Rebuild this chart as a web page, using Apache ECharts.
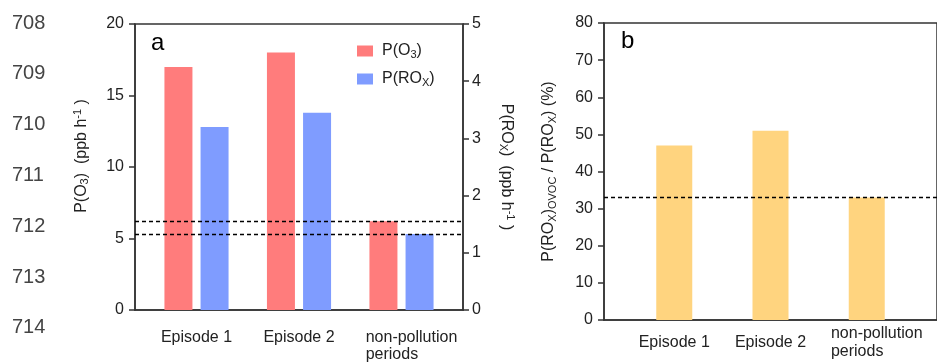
<!DOCTYPE html>
<html>
<head>
<meta charset="utf-8">
<script src="https://cdn.jsdelivr.net/npm/echarts@6/dist/echarts.min.js"></script>
<style>
html, body { margin: 0; padding: 0; background: #fff; }
#main { width: 937px; height: 363px; }
</style>
</head>
<body>
<div id="main"></div>
<script>
// data
var categories = ['Episode 1', 'Episode 2', 'non-pollution periods'];
var pO3 = [17, 18, 6.2];          // ppb h-1, left axis
var pROx = [3.2, 3.45, 1.33];     // ppb h-1, right axis
var ovocShare = [47, 51, 33];     // %
var o3Baseline = 6.2;
var roxBaseline = 1.33;
var ovocBaseline = 33;
var lineNumbers = ['708', '709', '710', '711', '712', '713', '714'];

var FONT = 'Liberation Sans, Arial, sans-serif';
var AXIS = '#333';

function toPoints(arr) {
  return arr.map(function (v, i) { return [i + 1, v]; });
}

function catLabel(v) {
  var name = categories[Math.round(v) - 1];
  if (name === 'non-pollution periods') return '{np|non-pollution}\n{np|periods}';
  return name;
}

var richText = {
  sub: { fontSize: 11, fontFamily: FONT, color: '#222', padding: [7, 0, 0, 0] },
  sup: { fontSize: 11, fontFamily: FONT, color: '#222', padding: [0, 0, 8, 0] }
};

function dashed(y) {
  return {
    silent: true,
    symbol: 'none',
    label: { show: false },
    lineStyle: { color: '#000', type: [4, 3], width: 1.3 },
    data: [{ yAxis: y }]
  };
}

var chartDom = document.getElementById('main');
var myChart = echarts.init(chartDom);

var labelLines = lineNumbers.map(function (t, i) {
  return {
    type: 'text', left: 12, top: 13 + i * 50.8,
    style: { text: t, fontSize: 20, fontFamily: FONT, fill: '#444' }
  };
});

var option = {
  animation: false,
  backgroundColor: '#fff',
  graphic: labelLines.concat([
    { type: 'text', left: 151, top: 31, style: { text: 'a', fontSize: 24, fontFamily: FONT, fill: '#000' } },
    { type: 'text', left: 621, top: 29, style: { text: 'b', fontSize: 24, fontFamily: FONT, fill: '#000' } }
  ]),
  legend: {
    data: ['P(O3)', 'P(ROx)'],
    orient: 'vertical',
    left: 352, top: 38,
    icon: 'rect',
    itemWidth: 16, itemHeight: 11, itemGap: 11,
    formatter: function (name) {
      return name === 'P(O3)' ? 'P(O{sub|3})' : 'P(RO{sub|X})';
    },
    textStyle: {
      fontSize: 16, fontFamily: FONT, color: '#222', padding: [0, 0, 0, 4],
      rich: richText
    }
  },
  grid: [
    { left: 135, right: 474, top: 24, bottom: 53, show: true, borderColor: AXIS, borderWidth: 1.5 },
    { left: 604, right: -9, top: 23, bottom: 43, show: true, borderColor: AXIS, borderWidth: 1.5 }
  ],
  xAxis: [
    {
      gridIndex: 0, type: 'value', min: 0.4, max: 3.6,
      axisLine: { show: true, onZero: false, lineStyle: { color: AXIS, width: 1.5 } },
      axisTick: { show: false },
      splitLine: { show: false },
      axisLabel: {
        customValues: [1, 2, 3], formatter: catLabel,
        margin: 19, fontSize: 16, fontFamily: FONT, color: '#222', lineHeight: 17,
        rich: { np: { align: 'left', fontSize: 16, fontFamily: FONT, color: '#222', lineHeight: 17, padding: [0, 0, 0, 20] } }
      }
    },
    {
      gridIndex: 1, type: 'value', min: 0.27, max: 3.73,
      axisLine: { show: true, onZero: false, lineStyle: { color: AXIS, width: 1.5 } },
      axisTick: { show: false },
      splitLine: { show: false },
      axisLabel: {
        customValues: [1, 2, 3], formatter: catLabel,
        margin: 23, verticalAlign: 'middle', fontSize: 16, fontFamily: FONT, color: '#222', lineHeight: 18,
        rich: { np: { align: 'left', fontSize: 16, fontFamily: FONT, color: '#222', lineHeight: 18, padding: [0, 0, 0, 20] } }
      }
    }
  ],
  yAxis: [
    {
      gridIndex: 0, type: 'value', min: 0, max: 20, interval: 5, position: 'left',
      name: 'P(O{sub|3})  (ppb h{sup|-1} )',
      nameLocation: 'middle', nameGap: 44, nameRotate: 90,
      nameTextStyle: { fontSize: 16, fontFamily: FONT, color: '#222', padding: [0, 0, 0, 22], rich: richText },
      axisLine: { show: true, lineStyle: { color: AXIS, width: 1.5 } },
      axisTick: { show: true, length: 6, lineStyle: { color: AXIS, width: 1.5 } },
      splitLine: { show: false },
      axisLabel: { margin: 11, fontSize: 16, fontFamily: FONT, color: '#222' }
    },
    {
      gridIndex: 0, type: 'value', min: 0, max: 5, interval: 1, position: 'right',
      name: 'P(RO{sub|X})  (ppb h{sup|-1} )',
      nameLocation: 'middle', nameGap: 34, nameRotate: -90,
      nameTextStyle: { fontSize: 16, fontFamily: FONT, color: '#222', rich: richText },
      axisLine: { show: true, lineStyle: { color: AXIS, width: 1.5 } },
      axisTick: { show: true, length: 6, lineStyle: { color: AXIS, width: 1.5 } },
      splitLine: { show: false },
      axisLabel: { margin: 9, fontSize: 16, fontFamily: FONT, color: '#222' }
    },
    {
      gridIndex: 1, type: 'value', min: 0, max: 80, interval: 10, position: 'left',
      name: 'P(RO{sub|X}){sub|OVOC} / P(RO{sub|X}) (%)',
      nameLocation: 'middle', nameGap: 46, nameRotate: 90,
      nameTextStyle: { fontSize: 16, fontFamily: FONT, color: '#222', rich: richText },
      axisLine: { show: true, lineStyle: { color: AXIS, width: 1.5 } },
      axisTick: { show: true, length: 6, lineStyle: { color: AXIS, width: 1.5 } },
      splitLine: { show: false },
      axisLabel: { margin: 11, fontSize: 16, fontFamily: FONT, color: '#222' }
    }
  ],
  series: [
    {
      name: 'P(O3)', type: 'bar', xAxisIndex: 0, yAxisIndex: 0,
      barWidth: 28, barGap: '29%',
      itemStyle: { color: '#ff7c7c' },
      data: toPoints(pO3),
      markLine: dashed(o3Baseline)
    },
    {
      name: 'P(ROx)', type: 'bar', xAxisIndex: 0, yAxisIndex: 1,
      barWidth: 28, barGap: '29%',
      itemStyle: { color: '#7f9cff' },
      data: toPoints(pROx),
      markLine: dashed(roxBaseline)
    },
    {
      name: 'ratio', type: 'bar', xAxisIndex: 1, yAxisIndex: 2,
      barWidth: 36,
      itemStyle: { color: '#ffd47f' },
      data: toPoints(ovocShare),
      markLine: dashed(ovocBaseline)
    }
  ]
};

option && myChart.setOption(option);
</script>
</body>
</html>
